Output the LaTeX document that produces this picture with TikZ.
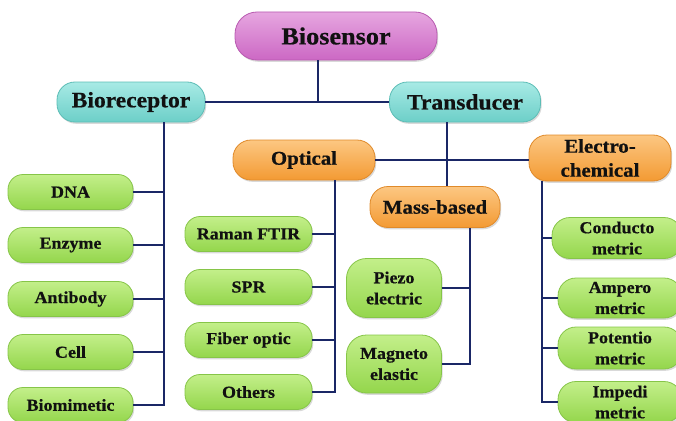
\documentclass[tikz,border=0pt]{standalone}
\usepackage{fontspec}
\setmainfont{Liberation Serif}[FakeStretch=1.07, BoldFeatures={FakeBold=0.6}]
\usetikzlibrary{shadows}

\definecolor{wire}{HTML}{1A2766}
\definecolor{ink}{HTML}{111111}
\definecolor{pinkT}{HTML}{E6A6E0}\definecolor{pinkB}{HTML}{CC68C4}\definecolor{pinkD}{HTML}{B85AB0}
\definecolor{cyanT}{HTML}{A8EAE5}\definecolor{cyanB}{HTML}{6CCFC8}\definecolor{cyanD}{HTML}{5CBDB6}
\definecolor{orT}{HTML}{FCC782}\definecolor{orB}{HTML}{F39A33}\definecolor{orD}{HTML}{E08A2A}
\definecolor{grT}{HTML}{C3EF8A}\definecolor{grB}{HTML}{94D64C}\definecolor{grD}{HTML}{86C548}

\tikzset{
  boxbase/.style={rectangle, rounded corners=15pt, inner sep=0pt, align=center,
    text=ink, line width=0.8pt,
    drop shadow={opacity=0.3, shadow xshift=1.2pt, shadow yshift=-1.8pt}},
  pinkbox/.style={boxbase, draw=pinkD, top color=pinkT, bottom color=pinkB,
    rounded corners=22pt, font=\fontsize{24.5}{28}\selectfont\bfseries},
  cyanbox/.style={boxbase, draw=cyanD, top color=cyanT, bottom color=cyanB,
    rounded corners=18pt, minimum height=40pt, font=\fontsize{22}{26}\selectfont\bfseries},
  orbox/.style={boxbase, draw=orD, top color=orT, bottom color=orB,
    rounded corners=18pt, font=\fontsize{19.5}{24}\selectfont\bfseries},
  grbox/.style={boxbase, draw=grD, top color=grT, bottom color=grB,
    font=\fontsize{16.8}{21}\selectfont\bfseries},
  wire/.style={draw=wire, line width=2.3pt}
}

\begin{document}
\begin{tikzpicture}[x=1pt, y=-1pt]
\useasboundingbox (0,0) rectangle (676,420);
\clip (0,0) rectangle (676,420);

% top levels
\node[pinkbox, minimum width=202pt, minimum height=48pt] (bio) at (336,36) {Biosensor};
\node[cyanbox, minimum width=148pt] (brec) at (131,102) {Bioreceptor};
\node[cyanbox, minimum width=151pt] (trans) at (465,102) {Transducer};

% transducer families
\node[orbox, minimum width=142pt, minimum height=40pt] (opt) at (304,160) {Optical};
\node[orbox, minimum width=130pt, minimum height=41pt] (mass) at (435,207) {Mass-based};
\node[orbox, minimum width=142pt, minimum height=46pt] (elec) at (600,158) {Electro-\\chemical};

% bioreceptor types
\foreach \nm/\y/\t in {dna/192/DNA, enz/245/Enzyme, ab/299/Antibody, cell/352/Cell, bm/405/Biomimetic}
  \node[grbox, minimum width=125pt, minimum height=35pt] (\nm) at (70.5,\y) {\t};

% optical methods
\foreach \nm/\y/\t in {ram/234/Raman FTIR, spr/287/SPR, fib/340/Fiber optic, oth/392/Others}
  \node[grbox, minimum width=127pt, minimum height=35pt] (\nm) at (248.5,\y) {\t};

% mass-based methods
\node[grbox, rounded corners=20pt, minimum width=95pt, minimum height=59pt] (pz) at (394,288) {Piezo\\electric};
\node[grbox, rounded corners=20pt, minimum width=95pt, minimum height=58pt] (mag) at (394,364) {Magneto\\elastic};

% electrochemical methods
\node[grbox, rounded corners=18pt, minimum width=130pt, minimum height=41pt] (con) at (617,238) {Conducto\\metric};
\node[grbox, rounded corners=18pt, minimum width=124pt, minimum height=40pt] (amp) at (620,298) {Ampero\\metric};
\node[grbox, rounded corners=18pt, minimum width=124pt, minimum height=42pt] (pot) at (620,348) {Potentio\\metric};
\node[grbox, rounded corners=18pt, minimum width=124pt, minimum height=41pt] (imp) at (620,402) {Impedi\\metric};

% trunk positions
\coordinate (j)  at (318,102);
\coordinate (bx) at (164,0);
\coordinate (tx) at (447,0);
\coordinate (ox) at (335,0);
\coordinate (mx) at (470,0);
\coordinate (ex) at (542,0);

% connectors
\draw[wire] (j |- bio.south) -- (j);
\draw[wire] (brec.east) -- (trans.west);

\draw[wire] (bx |- brec.south) |- (bm.east);
\foreach \nm in {dna, enz, ab, cell} \draw[wire] (\nm.east) -- (\nm.east -| bx);

\draw[wire] (opt.east) -- (opt.east -| elec.west);
\draw[wire] (tx |- trans.south) -- (tx |- mass.north);

\draw[wire] (ox |- opt.south) |- (oth.east);
\foreach \nm in {ram, spr, fib} \draw[wire] (\nm.east) -- (\nm.east -| ox);

\draw[wire] (mx |- mass.south) |- (mag.east);
\draw[wire] (pz.east) -- (pz.east -| mx);

\draw[wire] (ex |- elec.south) |- (imp.west);
\foreach \nm in {con, amp, pot} \draw[wire] (\nm.west) -- (\nm.west -| ex);
\end{tikzpicture}
\end{document}
